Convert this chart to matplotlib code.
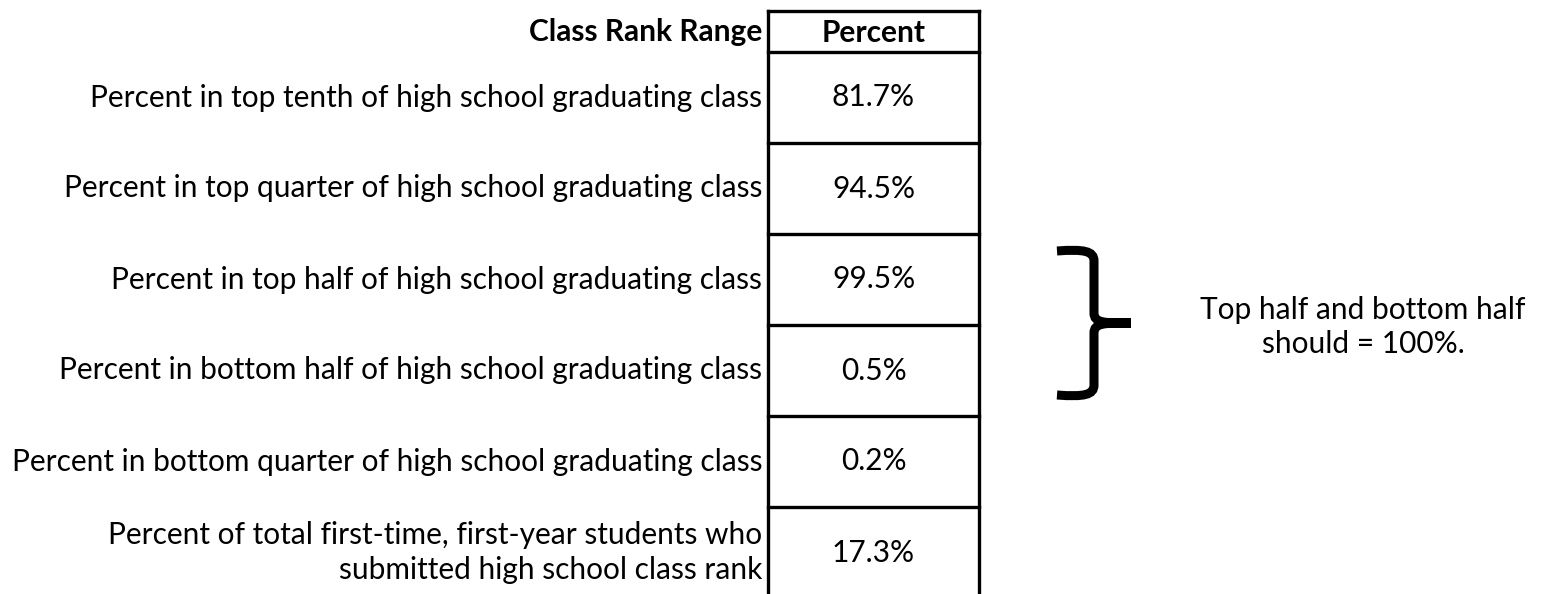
import matplotlib
matplotlib.use("Agg")
import matplotlib.pyplot as plt
from matplotlib.path import Path
from matplotlib.patches import PathPatch

header = ["Class Rank Range", "Percent"]
labels = [
    "Percent in top tenth of high school graduating class",
    "Percent in top quarter of high school graduating class",
    "Percent in top half of high school graduating class",
    "Percent in bottom half of high school graduating class",
    "Percent in bottom quarter of high school graduating class",
    "Percent of total first-time, first-year students who\nsubmitted high school class rank",
]
values = [81.7, 94.5, 99.5, 0.5, 0.2, 17.3]
note = "Top half and bottom half\nshould = 100%."

W, H = 1551, 594
FONT = "Lato"
FS = 21.5

fig = plt.figure(figsize=(W / 100, H / 100), dpi=100)
ax = fig.add_axes([0, 0, 1, 1])
ax.set_xlim(0, W)
ax.set_ylim(H, 0)
ax.axis("off")

# table geometry in pixels
x_left, x_right = 768, 979
y_top, y_head = 11, 52
row_h = 91
lw = 2.4

n = len(labels)
bounds = [y_head + i * row_h for i in range(n + 1)]

ax.plot([x_left, x_right], [y_top, y_top], color="black", lw=lw, solid_capstyle="projecting")
for y in bounds[:-1]:
    ax.plot([x_left, x_right], [y, y], color="black", lw=lw)
ax.plot([x_left, x_left], [y_top, H + 5], color="black", lw=lw)
ax.plot([x_right, x_right], [y_top, H + 5], color="black", lw=lw)

ax.text(x_left - 6, (y_top + y_head) / 2 + 1, header[0], ha="right", va="center",
        fontsize=FS, fontweight="bold", family=FONT)
ax.text((x_left + x_right) / 2, (y_top + y_head) / 2 + 1, header[1], ha="center", va="center",
        fontsize=FS, fontweight="bold", family=FONT)

for i, (lab, v) in enumerate(zip(labels, values)):
    yc = (bounds[i] + bounds[i + 1]) / 2
    ax.text(x_left - 6, yc, lab, ha="right", va="center", fontsize=FS, family=FONT,
            linespacing=1.3)
    ax.text((x_left + x_right) / 2, yc, "%.1f%%" % v, ha="center", va="center",
            fontsize=FS, family=FONT)

# curly brace next to top half / bottom half rows
bx0, bx1, tip = 1057, 1094, 1131
by0, by1 = 251, 395
ym = (by0 + by1) / 2
r = 10
verts = [
    (bx0, by0), (bx1 - r, by0 - 2), (bx1, by0), (bx1, by0 + r),
    (bx1, ym - r),
    (bx1, ym), (bx1 + r, ym), (tip, ym),
    (bx1 + r, ym), (bx1, ym), (bx1, ym + r),
    (bx1, by1 - r),
    (bx1, by1), (bx1 - r, by1 + 2), (bx0, by1),
]
codes = [Path.MOVETO, Path.CURVE4, Path.CURVE4, Path.CURVE4,
         Path.LINETO,
         Path.CURVE4, Path.CURVE4, Path.CURVE4,
         Path.CURVE4, Path.CURVE4, Path.CURVE4,
         Path.LINETO,
         Path.CURVE4, Path.CURVE4, Path.CURVE4]
ax.add_patch(PathPatch(Path(verts, codes), fill=False, lw=6.5, edgecolor="black",
                       capstyle="butt", joinstyle="miter"))

ax.text(1363, 327, note, ha="center", va="center", fontsize=FS, family=FONT,
        linespacing=1.3)

fig.savefig("out.png", dpi=100)
